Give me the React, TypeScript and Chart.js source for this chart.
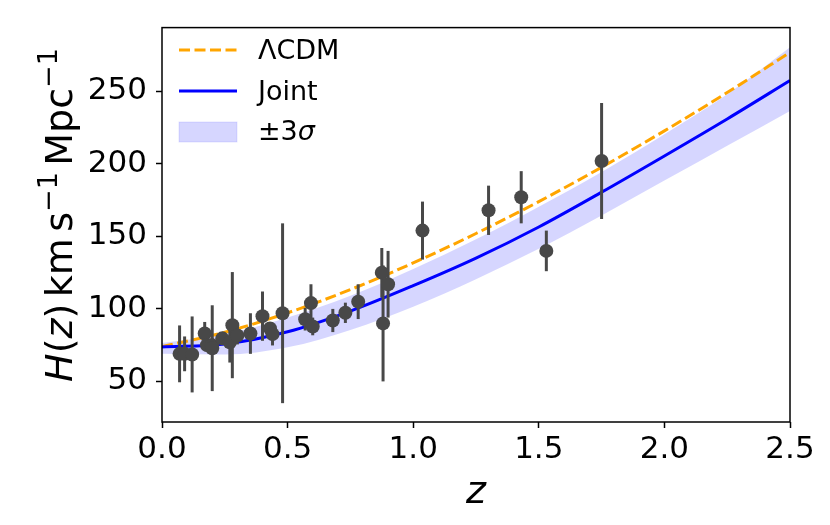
import * as React from 'react';
import { useEffect, useRef } from 'react';
import { Chart, registerables } from 'chart.js';

Chart.register(...registerables);

document.body.style.margin = '0';

// observed H(z) points
const zObs = [0.07, 0.09, 0.12, 0.17, 0.179, 0.199, 0.2, 0.24, 0.27, 0.28, 0.3, 0.352, 0.4, 0.43, 0.44, 0.48, 0.57, 0.593, 0.6, 0.68, 0.73, 0.781, 0.875, 0.88, 0.9, 1.037, 1.3, 1.43, 1.53, 1.75];
const hObs = [69, 69, 68.6, 83, 75, 75, 72.9, 79.7, 77, 88.8, 81.7, 83, 95, 86.5, 82.6, 97, 92.9, 104, 87.9, 92, 97.3, 105, 125, 90, 117, 154, 168, 177, 140, 202];
const hObsErr = [19.6, 12, 26.2, 8, 4, 5, 29.6, 2.7, 14, 36.6, 6.2, 14, 17, 3.7, 7.8, 62, 7.8, 13, 6.1, 8, 7, 12, 17, 40, 23, 20, 17, 18, 14, 40];

// model curves
const zGrid = [0, 0.25, 0.5, 0.75, 1.0, 1.25, 1.5, 1.75, 2.0, 2.25, 2.5];
const hLcdm = [74, 83.9, 97.3, 113.3, 131.7, 152, 174, 197.7, 222.8, 249.2, 276.9];
const hJoint = [73.7, 75.8, 84.2, 98.5, 116, 135, 156.5, 180.5, 205.5, 231, 257.5];
const hUpper = [76.5, 82.5, 94, 109, 127.5, 148, 170.5, 194.5, 220.5, 248, 280.5];
const hLower = [69, 68.5, 73.5, 85.5, 101.5, 120.5, 141.5, 164.5, 188.5, 212.5, 236.5];

const xTicks = [0, 0.5, 1.0, 1.5, 2.0, 2.5];
const yTicks = [50, 100, 150, 200, 250];

const FONT = '"DejaVu Sans", sans-serif';
const pointColor = '#484848';
const bandColor = 'rgba(0, 0, 255, 0.16)';
const lcdmDash = [11, 4.5];

const toXY = (xs: number[], ys: number[]) => xs.map((x, i) => ({ x, y: ys[i] }));

type Seg = { t: string; italic?: boolean; sup?: boolean; gap?: number };

// draws a run of mixed text (italic, superscript) starting at x=0, baseline y=0
function drawRich(ctx: CanvasRenderingContext2D, segs: Seg[], size: number, center: boolean) {
  const fontFor = (s: Seg) =>
    `${s.italic ? 'italic ' : ''}${s.sup ? Math.round(size * 0.7) : size}px ${FONT}`;
  let total = 0;
  for (const s of segs) {
    if (s.gap) { total += s.gap * size; continue; }
    ctx.font = fontFor(s);
    total += ctx.measureText(s.t).width;
  }
  let x = center ? -total / 2 : 0;
  ctx.textBaseline = 'alphabetic';
  ctx.textAlign = 'left';
  for (const s of segs) {
    if (s.gap) { x += s.gap * size; continue; }
    ctx.font = fontFor(s);
    ctx.fillText(s.t, x, s.sup ? -size * 0.4 : 0);
    x += ctx.measureText(s.t).width;
  }
}

const errorBars = {
  id: 'errorBars',
  beforeDatasetDraw(chart: any, args: any) {
    if (args.index !== 0) return;
    const { ctx, scales } = chart;
    ctx.save();
    ctx.strokeStyle = pointColor;
    ctx.lineWidth = 3;
    zObs.forEach((z, i) => {
      const px = scales.x.getPixelForValue(z);
      ctx.beginPath();
      ctx.moveTo(px, scales.y.getPixelForValue(hObs[i] - hObsErr[i]));
      ctx.lineTo(px, scales.y.getPixelForValue(hObs[i] + hObsErr[i]));
      ctx.stroke();
    });
    ctx.restore();
  },
};

const decorations = {
  id: 'decorations',
  afterDraw(chart: any) {
    const { ctx, chartArea: a } = chart;
    ctx.save();
    ctx.strokeStyle = '#000';
    ctx.lineWidth = 1.5;
    ctx.strokeRect(a.left, a.top, a.right - a.left, a.bottom - a.top);

    ctx.fillStyle = '#000';
    // x title
    ctx.save();
    ctx.translate((a.left + a.right) / 2, 503);
    drawRich(ctx, [{ t: 'z', italic: true }], 38, true);
    ctx.restore();

    // y title
    ctx.save();
    ctx.translate(72, 215);
    ctx.rotate(-Math.PI / 2);
    drawRich(ctx, [
      { t: 'H', italic: true }, { t: '(' }, { t: 'z', italic: true }, { t: ')' },
      { t: '', gap: 0.17 }, { t: 'km' }, { t: '', gap: 0.17 }, { t: 's' }, { t: '\u22121', sup: true },
      { t: '', gap: 0.17 }, { t: 'Mpc' }, { t: '\u22121', sup: true },
    ], 38, true);
    ctx.restore();

    // legend
    const lx0 = 179;
    const lx1 = 237;
    const tx = 258;
    ctx.lineWidth = 3;
    ctx.strokeStyle = 'orange';
    ctx.setLineDash(lcdmDash);
    ctx.beginPath();
    ctx.moveTo(lx0, 50);
    ctx.lineTo(lx1, 50);
    ctx.stroke();
    ctx.setLineDash([]);
    ctx.strokeStyle = 'blue';
    ctx.beginPath();
    ctx.moveTo(lx0, 91);
    ctx.lineTo(lx1, 91);
    ctx.stroke();
    ctx.fillStyle = bandColor;
    ctx.fillRect(lx0, 122, lx1 - lx0, 20);
    ctx.strokeStyle = 'rgba(0, 0, 255, 0.1)';
    ctx.lineWidth = 1;
    ctx.strokeRect(lx0, 122, lx1 - lx0, 20);

    ctx.fillStyle = '#000';
    ctx.save();
    ctx.translate(tx, 59);
    drawRich(ctx, [{ t: '\u039BCDM' }], 27, false);
    ctx.restore();
    ctx.save();
    ctx.translate(tx, 100);
    drawRich(ctx, [{ t: 'Joint' }], 27, false);
    ctx.restore();
    ctx.save();
    ctx.translate(tx, 140);
    drawRich(ctx, [{ t: '\u00B13' }, { t: '\u03C3', italic: true }], 27, false);
    ctx.restore();

    ctx.restore();
  },
};

const HubbleChart = () => {
  const canvasRef = useRef<HTMLCanvasElement>(null);

  useEffect(() => {
    const canvas = canvasRef.current;
    if (!canvas) return;

    const chart = new Chart(canvas, {
      type: 'scatter',
      data: {
        datasets: [
          {
            type: 'scatter',
            data: toXY(zObs, hObs),
            pointRadius: 7,
            pointHoverRadius: 7,
            backgroundColor: pointColor,
            borderWidth: 0,
            order: 0,
          },
          {
            type: 'line',
            data: toXY(zGrid, hJoint),
            borderColor: 'blue',
            borderWidth: 3,
            pointRadius: 0,
            cubicInterpolationMode: 'monotone',
            fill: false,
            order: 1,
          },
          {
            type: 'line',
            data: toXY(zGrid, hLcdm),
            borderColor: 'orange',
            borderWidth: 3,
            borderDash: lcdmDash,
            pointRadius: 0,
            cubicInterpolationMode: 'monotone',
            fill: false,
            order: 2,
          },
          {
            type: 'line',
            data: toXY(zGrid, hLower),
            borderWidth: 0,
            borderColor: 'rgba(0,0,0,0)',
            pointRadius: 0,
            cubicInterpolationMode: 'monotone',
            fill: false,
            order: 3,
          },
          {
            type: 'line',
            data: toXY(zGrid, hUpper),
            borderWidth: 0,
            borderColor: 'rgba(0,0,0,0)',
            backgroundColor: bandColor,
            pointRadius: 0,
            cubicInterpolationMode: 'monotone',
            fill: '-1',
            order: 4,
          },
        ],
      } as any,
      options: {
        animation: false,
        responsive: true,
        maintainAspectRatio: false,
        layout: { padding: { top: 13, right: 40, left: 0, bottom: 0 } },
        plugins: {
          legend: { display: false },
          tooltip: { enabled: false },
        },
        scales: {
          x: {
            type: 'linear',
            min: 0,
            max: 2.5,
            afterBuildTicks: (axis: any) => { axis.ticks = xTicks.map((value) => ({ value })); },
            afterFit: (axis: any) => { axis.height = 103; },
            border: { display: false },
            grid: { drawOnChartArea: false, drawTicks: true, tickLength: 6, tickWidth: 1.5, tickColor: '#000' },
            ticks: {
              color: '#000',
              padding: 3,
              font: { family: FONT, size: 31 },
              callback: (v: any) => Number(v).toFixed(1),
            },
          },
          y: {
            type: 'linear',
            min: 22,
            max: 294,
            afterBuildTicks: (axis: any) => { axis.ticks = yTicks.map((value) => ({ value })); },
            afterFit: (axis: any) => { axis.width = 162; },
            border: { display: false },
            grid: { drawOnChartArea: false, drawTicks: true, tickLength: 6, tickWidth: 1.5, tickColor: '#000' },
            ticks: {
              color: '#000',
              padding: 9,
              font: { family: FONT, size: 31 },
            },
          },
        },
      },
      plugins: [errorBars, decorations],
    });

    return () => chart.destroy();
  }, []);

  return (
    <div style={{ position: 'relative', width: 830, height: 525 }}>
      <canvas ref={canvasRef} />
    </div>
  );
};

export default function App() {
  return <HubbleChart />;
}
